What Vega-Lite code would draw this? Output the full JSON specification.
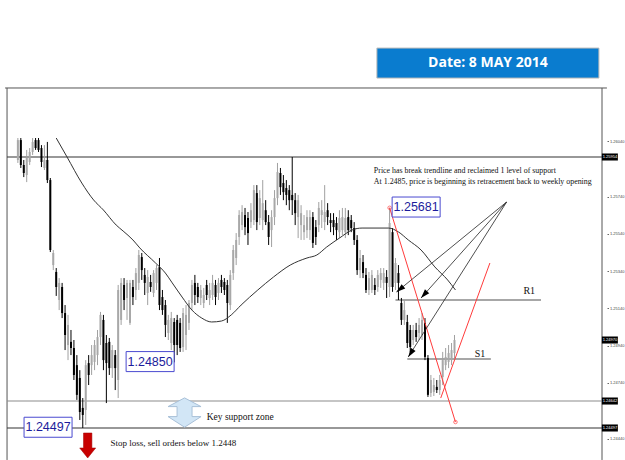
{
"$schema": "https://vega.github.io/schema/vega-lite/v6.json",
"width": 602, "height": 460,
"autosize": {"type": "none"},
"padding": {"left": 5, "right": 18, "top": 0, "bottom": 0},
"background": "#ffffff",
"config": {"view": {"stroke": null}},
"datasets": {
"candles": [
{"i":1,"o":1.25938,"h":1.26056,"l":1.25922,"c":1.26045},
{"i":2,"o":1.26045,"h":1.26056,"l":1.25895,"c":1.25911},
{"i":3,"o":1.25911,"h":1.25938,"l":1.25846,"c":1.25868},
{"i":4,"o":1.25857,"h":1.25992,"l":1.25819,"c":1.25949},
{"i":5,"o":1.25927,"h":1.26002,"l":1.25911,"c":1.25981},
{"i":6,"o":1.25981,"h":1.26056,"l":1.25965,"c":1.26035},
{"i":7,"o":1.26045,"h":1.26056,"l":1.25992,"c":1.26002},
{"i":8,"o":1.26045,"h":1.26056,"l":1.25981,"c":1.25992},
{"i":9,"o":1.26002,"h":1.26018,"l":1.25900,"c":1.25927},
{"i":10,"o":1.25895,"h":1.26018,"l":1.25884,"c":1.25938},
{"i":11,"o":1.25938,"h":1.26035,"l":1.25814,"c":1.25830},
{"i":12,"o":1.25830,"h":1.25841,"l":1.25443,"c":1.25454},
{"i":13,"o":1.25373,"h":1.25454,"l":1.25346,"c":1.25438},
{"i":14,"o":1.25336,"h":1.25357,"l":1.25207,"c":1.25255},
{"i":15,"o":1.25185,"h":1.25303,"l":1.25131,"c":1.25277},
{"i":16,"o":1.25255,"h":1.25277,"l":1.25088,"c":1.25115},
{"i":17,"o":1.25115,"h":1.25158,"l":1.24916,"c":1.24997},
{"i":18,"o":1.24943,"h":1.25105,"l":1.24862,"c":1.25051},
{"i":19,"o":1.24960,"h":1.25024,"l":1.24889,"c":1.24927},
{"i":20,"o":1.24927,"h":1.24970,"l":1.24755,"c":1.24782},
{"i":21,"o":1.24835,"h":1.24889,"l":1.24648,"c":1.24675},
{"i":22,"o":1.24766,"h":1.24808,"l":1.24540,"c":1.24583},
{"i":23,"o":1.24605,"h":1.24658,"l":1.24497,"c":1.24567},
{"i":24,"o":1.24594,"h":1.24862,"l":1.24513,"c":1.24835},
{"i":25,"o":1.24846,"h":1.24889,"l":1.24728,"c":1.24782},
{"i":26,"o":1.24835,"h":1.24943,"l":1.24782,"c":1.24889},
{"i":27,"o":1.24852,"h":1.24970,"l":1.24808,"c":1.24943},
{"i":28,"o":1.24889,"h":1.25024,"l":1.24835,"c":1.24986},
{"i":29,"o":1.24986,"h":1.25121,"l":1.24943,"c":1.25105},
{"i":30,"o":1.25078,"h":1.25105,"l":1.24808,"c":1.24862},
{"i":31,"o":1.24954,"h":1.24997,"l":1.24631,"c":1.24846},
{"i":32,"o":1.24960,"h":1.24981,"l":1.24782,"c":1.24819},
{"i":33,"o":1.24819,"h":1.24943,"l":1.24766,"c":1.24916},
{"i":34,"o":1.24889,"h":1.24916,"l":1.24701,"c":1.24819},
{"i":35,"o":1.24755,"h":1.25266,"l":1.24658,"c":1.25239},
{"i":36,"o":1.25078,"h":1.25303,"l":1.25051,"c":1.25277},
{"i":37,"o":1.25266,"h":1.25303,"l":1.25131,"c":1.25185},
{"i":38,"o":1.25196,"h":1.25293,"l":1.25078,"c":1.25277},
{"i":39,"o":1.25062,"h":1.25293,"l":1.25051,"c":1.25277},
{"i":40,"o":1.25255,"h":1.25293,"l":1.25158,"c":1.25201},
{"i":41,"o":1.25239,"h":1.25357,"l":1.25185,"c":1.25330},
{"i":42,"o":1.25277,"h":1.25454,"l":1.25239,"c":1.25427},
{"i":43,"o":1.25416,"h":1.25438,"l":1.25293,"c":1.25346},
{"i":44,"o":1.25320,"h":1.25357,"l":1.25212,"c":1.25277},
{"i":45,"o":1.25223,"h":1.25346,"l":1.25158,"c":1.25309},
{"i":46,"o":1.25282,"h":1.25320,"l":1.25229,"c":1.25255},
{"i":47,"o":1.25223,"h":1.25346,"l":1.25201,"c":1.25330},
{"i":48,"o":1.25277,"h":1.25373,"l":1.25239,"c":1.25357},
{"i":49,"o":1.25362,"h":1.25411,"l":1.25131,"c":1.25158},
{"i":50,"o":1.25201,"h":1.25239,"l":1.25105,"c":1.25131},
{"i":51,"o":1.25158,"h":1.25185,"l":1.24986,"c":1.25051},
{"i":52,"o":1.25008,"h":1.25105,"l":1.24970,"c":1.25078},
{"i":53,"o":1.24954,"h":1.25121,"l":1.24916,"c":1.25088},
{"i":54,"o":1.25067,"h":1.25088,"l":1.24850,"c":1.24943},
{"i":55,"o":1.25078,"h":1.25105,"l":1.24889,"c":1.24943},
{"i":56,"o":1.25062,"h":1.25088,"l":1.24906,"c":1.24927},
{"i":57,"o":1.24932,"h":1.25142,"l":1.24906,"c":1.25115},
{"i":58,"o":1.24997,"h":1.25158,"l":1.24916,"c":1.25105},
{"i":59,"o":1.25062,"h":1.25185,"l":1.25024,"c":1.25169},
{"i":60,"o":1.25169,"h":1.25293,"l":1.25131,"c":1.25266},
{"i":61,"o":1.25277,"h":1.25320,"l":1.25158,"c":1.25212},
{"i":62,"o":1.25255,"h":1.25277,"l":1.25169,"c":1.25201},
{"i":63,"o":1.25196,"h":1.25266,"l":1.25158,"c":1.25239},
{"i":64,"o":1.25169,"h":1.25250,"l":1.25142,"c":1.25212},
{"i":65,"o":1.25266,"h":1.25293,"l":1.25185,"c":1.25212},
{"i":66,"o":1.25196,"h":1.25277,"l":1.25158,"c":1.25239},
{"i":67,"o":1.25212,"h":1.25320,"l":1.25185,"c":1.25277},
{"i":68,"o":1.25266,"h":1.25293,"l":1.25158,"c":1.25201},
{"i":69,"o":1.25223,"h":1.25303,"l":1.25185,"c":1.25277},
{"i":70,"o":1.25293,"h":1.25320,"l":1.25223,"c":1.25255},
{"i":71,"o":1.25282,"h":1.25303,"l":1.25212,"c":1.25239},
{"i":72,"o":1.25266,"h":1.25293,"l":1.25062,"c":1.25169},
{"i":73,"o":1.25158,"h":1.25346,"l":1.25131,"c":1.25320},
{"i":74,"o":1.25330,"h":1.25481,"l":1.25293,"c":1.25454},
{"i":75,"o":1.25411,"h":1.25545,"l":1.25373,"c":1.25508},
{"i":76,"o":1.25524,"h":1.25668,"l":1.25481,"c":1.25642},
{"i":77,"o":1.25588,"h":1.25695,"l":1.25561,"c":1.25658},
{"i":78,"o":1.25642,"h":1.25680,"l":1.25534,"c":1.25577},
{"i":79,"o":1.25626,"h":1.25658,"l":1.25481,"c":1.25545},
{"i":80,"o":1.25604,"h":1.25706,"l":1.25572,"c":1.25668},
{"i":81,"o":1.25615,"h":1.25803,"l":1.25588,"c":1.25776},
{"i":82,"o":1.25760,"h":1.25803,"l":1.25561,"c":1.25604},
{"i":83,"o":1.25626,"h":1.25776,"l":1.25588,"c":1.25733},
{"i":84,"o":1.25615,"h":1.25830,"l":1.25561,"c":1.25706},
{"i":85,"o":1.25668,"h":1.25722,"l":1.25588,"c":1.25604},
{"i":86,"o":1.25604,"h":1.25642,"l":1.25481,"c":1.25524},
{"i":87,"o":1.25561,"h":1.25668,"l":1.25470,"c":1.25631},
{"i":88,"o":1.25631,"h":1.25776,"l":1.25588,"c":1.25733},
{"i":89,"o":1.25733,"h":1.25922,"l":1.25695,"c":1.25873},
{"i":90,"o":1.25868,"h":1.25895,"l":1.25750,"c":1.25792},
{"i":91,"o":1.25814,"h":1.25857,"l":1.25722,"c":1.25765},
{"i":92,"o":1.25787,"h":1.25830,"l":1.25695,"c":1.25750},
{"i":93,"o":1.25776,"h":1.25803,"l":1.25668,"c":1.25722},
{"i":94,"o":1.25750,"h":1.25954,"l":1.25642,"c":1.25722},
{"i":95,"o":1.25722,"h":1.25760,"l":1.25588,"c":1.25652},
{"i":96,"o":1.25631,"h":1.25750,"l":1.25518,"c":1.25722},
{"i":97,"o":1.25588,"h":1.25695,"l":1.25508,"c":1.25652},
{"i":98,"o":1.25550,"h":1.25642,"l":1.25508,"c":1.25588},
{"i":99,"o":1.25561,"h":1.25668,"l":1.25518,"c":1.25631},
{"i":100,"o":1.25561,"h":1.25668,"l":1.25508,"c":1.25631},
{"i":101,"o":1.25631,"h":1.25658,"l":1.25465,"c":1.25492},
{"i":102,"o":1.25577,"h":1.25615,"l":1.25481,"c":1.25524},
{"i":103,"o":1.25588,"h":1.25712,"l":1.25550,"c":1.25680},
{"i":104,"o":1.25642,"h":1.25722,"l":1.25572,"c":1.25668},
{"i":105,"o":1.25604,"h":1.25803,"l":1.25561,"c":1.25658},
{"i":106,"o":1.25668,"h":1.25706,"l":1.25588,"c":1.25631},
{"i":107,"o":1.25615,"h":1.25652,"l":1.25550,"c":1.25599},
{"i":108,"o":1.25615,"h":1.25652,"l":1.25534,"c":1.25577},
{"i":109,"o":1.25599,"h":1.25631,"l":1.25508,"c":1.25561},
{"i":110,"o":1.25550,"h":1.25668,"l":1.25518,"c":1.25626},
{"i":111,"o":1.25561,"h":1.25680,"l":1.25534,"c":1.25631},
{"i":112,"o":1.25550,"h":1.25680,"l":1.25518,"c":1.25626},
{"i":113,"o":1.25631,"h":1.25668,"l":1.25534,"c":1.25561},
{"i":114,"o":1.25615,"h":1.25642,"l":1.25550,"c":1.25572},
{"i":115,"o":1.25572,"h":1.25604,"l":1.25481,"c":1.25508},
{"i":116,"o":1.25508,"h":1.25534,"l":1.25320,"c":1.25346},
{"i":117,"o":1.25346,"h":1.25454,"l":1.25303,"c":1.25411},
{"i":118,"o":1.25389,"h":1.25427,"l":1.25303,"c":1.25330},
{"i":119,"o":1.25320,"h":1.25357,"l":1.25223,"c":1.25239},
{"i":120,"o":1.25239,"h":1.25336,"l":1.25212,"c":1.25303},
{"i":121,"o":1.25239,"h":1.25346,"l":1.25223,"c":1.25320},
{"i":122,"o":1.25266,"h":1.25303,"l":1.25212,"c":1.25239},
{"i":123,"o":1.25255,"h":1.25346,"l":1.25229,"c":1.25320},
{"i":124,"o":1.25293,"h":1.25357,"l":1.25250,"c":1.25330},
{"i":125,"o":1.25277,"h":1.25357,"l":1.25239,"c":1.25330},
{"i":126,"o":1.25309,"h":1.25346,"l":1.25196,"c":1.25277},
{"i":127,"o":1.25255,"h":1.25681,"l":1.25201,"c":1.25599},
{"i":128,"o":1.25550,"h":1.25572,"l":1.25229,"c":1.25255},
{"i":129,"o":1.25277,"h":1.25411,"l":1.25239,"c":1.25384},
{"i":130,"o":1.25330,"h":1.25373,"l":1.25185,"c":1.25277},
{"i":131,"o":1.25169,"h":1.25196,"l":1.25051,"c":1.25078},
{"i":132,"o":1.25078,"h":1.25185,"l":1.25051,"c":1.25131},
{"i":133,"o":1.25067,"h":1.25105,"l":1.24927,"c":1.24954},
{"i":134,"o":1.25024,"h":1.25051,"l":1.24906,"c":1.24932},
{"i":135,"o":1.24970,"h":1.25051,"l":1.24943,"c":1.25024},
{"i":136,"o":1.25024,"h":1.25062,"l":1.24960,"c":1.24986},
{"i":137,"o":1.25008,"h":1.25088,"l":1.24970,"c":1.25051},
{"i":138,"o":1.24997,"h":1.25115,"l":1.24970,"c":1.25078},
{"i":139,"o":1.25062,"h":1.25088,"l":1.24862,"c":1.24879},
{"i":140,"o":1.24873,"h":1.24889,"l":1.24664,"c":1.24675},
{"i":141,"o":1.24685,"h":1.24782,"l":1.24664,"c":1.24755},
{"i":142,"o":1.24691,"h":1.24766,"l":1.24669,"c":1.24728},
{"i":143,"o":1.24718,"h":1.24755,"l":1.24685,"c":1.24701},
{"i":144,"o":1.24701,"h":1.24782,"l":1.24675,"c":1.24755},
{"i":145,"o":1.24771,"h":1.24906,"l":1.24728,"c":1.24862},
{"i":146,"o":1.24835,"h":1.24927,"l":1.24808,"c":1.24879},
{"i":147,"o":1.24852,"h":1.24943,"l":1.24819,"c":1.24900},
{"i":148,"o":1.24862,"h":1.24954,"l":1.24835,"c":1.24916},
{"i":149,"o":1.24900,"h":1.24997,"l":1.24873,"c":1.24970}
],
"ma": [
{"i":14,"p":1.26056},{"i":17.67,"p":1.25954},{"i":22.67,"p":1.25814},{"i":26.67,"p":1.25723},
{"i":30,"p":1.25669},{"i":34.33,"p":1.25588},{"i":36.67,"p":1.25556},{"i":40,"p":1.25508},
{"i":42.33,"p":1.25465},{"i":47.67,"p":1.25384},{"i":51,"p":1.25330},{"i":53.33,"p":1.25277},
{"i":56.67,"p":1.25201},{"i":60,"p":1.25131},{"i":63.33,"p":1.25088},{"i":66.67,"p":1.25067},
{"i":70,"p":1.25072},{"i":73.33,"p":1.25105},{"i":76.67,"p":1.25158},{"i":82.33,"p":1.25239},
{"i":87.67,"p":1.25309},{"i":93.33,"p":1.25373},{"i":99,"p":1.25411},{"i":102.33,"p":1.25427},
{"i":105.67,"p":1.25470},{"i":110,"p":1.25518},{"i":114.33,"p":1.25562},{"i":117.67,"p":1.25572},
{"i":126.67,"p":1.25572},{"i":130,"p":1.25551},{"i":133.33,"p":1.25508},{"i":137.67,"p":1.25454},
{"i":142.33,"p":1.25363},{"i":146.67,"p":1.25293},{"i":149.33,"p":1.25239}
],
"levels": [
{"kind":"major","p":1.25954,"i":-2.67,"i2":199},
{"kind":"support","p":1.24642,"i":-2.67,"i2":199},
{"kind":"major","p":1.24497,"i":-2.67,"i2":199}
],
"frame": [
{"i":-3.33,"i2":200.67,"p":1.26325,"p2":1.26325},
{"i":-2.67,"i2":-2.67,"p":1.26325,"p2":1.24325},
{"i":199,"i2":199,"p":1.26325,"p2":1.24325}
],
"sr": [
{"t":"R1","i":129,"i2":178.33,"p":1.25185,"li":174.33,"lp":1.25234},
{"t":"S1","i":133,"i2":161.33,"p":1.24868,"li":157.67,"lp":1.24895}
],
"red": [
{"seg":"a","i":127,"p":1.25681},{"seg":"a","i":149.33,"p":1.24529},
{"seg":"b","i":144.33,"p":1.24658},{"seg":"b","i":161,"p":1.25384}
],
"reddots": [{"i":127,"p":1.25681},{"i":149.33,"p":1.24529}],
"arrows": [
{"a":"A1","i":166.67,"p":1.25712,"i2":129.33,"p2":1.25228},
{"a":"A2","i":166.67,"p":1.25712,"i2":137.67,"p2":1.25196},
{"a":"A3","i":166.67,"p":1.25712,"i2":133.33,"p2":1.24879}
],
"notes": [
{"t":"Price has break trendline and reclaimed 1 level of support","i":121.67,"p":1.25880},
{"t":"At 1.2485, price is beginning its retracement back to weekly opening","i":121.67,"p":1.25819}
],
"boxes": [
{"t":"1.25681","i":136,"p":1.25685},
{"t":"1.24850","i":45.83,"p":1.24854},
{"t":"1.24497","i":11.23,"p":1.24501}
],
"marks": [
{"t":"1.25954","p":1.25954},{"t":"1.24970","p":1.24970},
{"t":"1.24642","p":1.24642},{"t":"1.24497","p":1.24497}
]
},
"layer": [
{"data":{"name":"frame"},"mark":{"type":"rule","color":"#555555","strokeWidth":1},
 "encoding":{"x":{"field":"i","type":"quantitative","scale":{"domain":[-1.6667,199],"nice":false,"zero":false},"axis":null},"x2":{"field":"i2"},
 "y":{"field":"p","type":"quantitative","scale":{"domain":[1.243249,1.267981],"nice":false,"zero":false},"axis":{"orient":"right","values":[1.2444,1.2454,1.2474,1.2484,1.2494,1.2504,1.2514,1.2524,1.2534,1.2544,1.2554,1.2564,1.2574,1.2584,1.2604],"format":".5f","labelFontSize":4,"labelColor":"#444444","labelFont":"Liberation Sans","tickSize":1.5,"tickColor":"#666666","domain":false,"grid":false,"title":null,"labelPadding":1,"labelOverlap":false,"labelBound":false}},"y2":{"field":"p2"}}},
{"data":{"name":"levels"},"mark":{"type":"rule","strokeWidth":1.2},
 "encoding":{"x":{"field":"i","type":"quantitative"},"x2":{"field":"i2"},"y":{"field":"p","type":"quantitative"},
 "color":{"field":"kind","type":"nominal","scale":{"domain":["major","support"],"range":["#333333","#8c8c8c"]},"legend":null}}},
{"data":{"name":"sr"},"mark":{"type":"rule","strokeWidth":1.6,"color":"#8a8a8a"},
 "encoding":{"x":{"field":"i","type":"quantitative"},"x2":{"field":"i2"},"y":{"field":"p","type":"quantitative"}}},
{"data":{"name":"sr"},"mark":{"type":"text","font":"Liberation Serif","fontSize":10,"color":"#111111"},
 "encoding":{"x":{"field":"li","type":"quantitative"},"y":{"field":"lp","type":"quantitative"},"text":{"field":"t"}}},
{"data":{"name":"candles"},"mark":{"type":"rule","strokeWidth":1},
 "encoding":{"x":{"field":"i","type":"quantitative"},"y":{"field":"l","type":"quantitative"},"y2":{"field":"h"},
 "color":{"condition":{"test":"datum.c < datum.o","value":"#000000"},"value":"#a0a0a0"}}},
{"data":{"name":"candles"},"mark":{"type":"bar","width":2},
 "encoding":{"x":{"field":"i","type":"quantitative"},"y":{"field":"o","type":"quantitative"},"y2":{"field":"c"},
 "color":{"condition":{"test":"datum.c < datum.o","value":"#000000"},"value":"#a8a8a8"}}},
{"data":{"name":"ma"},"mark":{"type":"line","color":"#333333","strokeWidth":1,"interpolate":"monotone"},
 "encoding":{"x":{"field":"i","type":"quantitative"},"y":{"field":"p","type":"quantitative"}}},
{"data":{"name":"red"},"mark":{"type":"line","color":"#ff3b3b","strokeWidth":1},
 "encoding":{"x":{"field":"i","type":"quantitative"},"y":{"field":"p","type":"quantitative"},"detail":{"field":"seg"}}},
{"data":{"name":"reddots"},"mark":{"type":"point","color":"#ff3b3b","size":12,"filled":false,"strokeWidth":1},
 "encoding":{"x":{"field":"i","type":"quantitative"},"y":{"field":"p","type":"quantitative"}}},
{"data":{"name":"arrows"},"mark":{"type":"rule","color":"#222222","strokeWidth":0.8},
 "encoding":{"x":{"field":"i","type":"quantitative"},"x2":{"field":"i2"},"y":{"field":"p","type":"quantitative"},"y2":{"field":"p2"}}},
{"data":{"name":"arrows"},"transform":[{"filter":"datum.a == 'A1'"}],
 "mark":{"type":"point","shape":"M0,0L0.32,1L-0.32,1Z","size":324,"filled":true,"color":"#000000","angle":231,"opacity":1},
 "encoding":{"x":{"field":"i2","type":"quantitative"},"y":{"field":"p2","type":"quantitative"}}},
{"data":{"name":"arrows"},"transform":[{"filter":"datum.a == 'A2'"}],
 "mark":{"type":"point","shape":"M0,0L0.32,1L-0.32,1Z","size":324,"filled":true,"color":"#000000","angle":222,"opacity":1},
 "encoding":{"x":{"field":"i2","type":"quantitative"},"y":{"field":"p2","type":"quantitative"}}},
{"data":{"name":"arrows"},"transform":[{"filter":"datum.a == 'A3'"}],
 "mark":{"type":"point","shape":"M0,0L0.32,1L-0.32,1Z","size":324,"filled":true,"color":"#000000","angle":213,"opacity":1},
 "encoding":{"x":{"field":"i2","type":"quantitative"},"y":{"field":"p2","type":"quantitative"}}},
{"data":{"name":"notes"},"mark":{"type":"text","font":"Liberation Serif","fontSize":7.9,"align":"left","baseline":"middle","color":"#111111"},
 "encoding":{"x":{"field":"i","type":"quantitative"},"y":{"field":"p","type":"quantitative"},"text":{"field":"t"}}},
{"data":{"values":[{"t":"Key support zone","i":65,"p":1.24556}]},"mark":{"type":"text","font":"Liberation Serif","fontSize":9.5,"align":"left","baseline":"middle","color":"#111111"},
 "encoding":{"x":{"field":"i","type":"quantitative"},"y":{"field":"p","type":"quantitative"},"text":{"field":"t"}}},
{"data":{"values":[{"t":"Stop loss, sell orders below 1.2448","i":32.43,"p":1.24416}]},"mark":{"type":"text","font":"Liberation Serif","fontSize":9,"align":"left","baseline":"middle","color":"#111111"},
 "encoding":{"x":{"field":"i","type":"quantitative"},"y":{"field":"p","type":"quantitative"},"text":{"field":"t"}}},
{"data":{"name":"boxes"},"mark":{"type":"point","shape":"M-1,-0.417L1,-0.417L1,0.417L-1,0.417Z","size":2304,"filled":false,"fill":"#ffffff","fillOpacity":1,"stroke":"#4a4ad0","strokeWidth":1,"opacity":1},
 "encoding":{"x":{"field":"i","type":"quantitative"},"y":{"field":"p","type":"quantitative"}}},
{"data":{"name":"boxes"},"mark":{"type":"text","font":"Liberation Sans","fontSize":12.5,"color":"#1c1c9c"},
 "encoding":{"x":{"field":"i","type":"quantitative"},"y":{"field":"p","type":"quantitative"},"text":{"field":"t"}}},
{"data":{"values":[{"i":57.5,"p":1.24580}]},"mark":{"type":"point","shape":"M0,-0.862L0.97,-0.35L0.44,-0.35L0.44,0.238L0.97,0.238L0,0.862L-0.97,0.238L-0.44,0.238L-0.44,-0.35L-0.97,-0.35Z","size":1156,"filled":true,"fill":"#d2e6f6","stroke":"#a8c0d8","strokeWidth":1,"opacity":1},
 "encoding":{"x":{"field":"i","type":"quantitative"},"y":{"field":"p","type":"quantitative"}}},
{"data":{"values":[{"i":24.67,"p":1.24403}]},"mark":{"type":"point","shape":"M-0.336,-1L0.336,-1L0.336,0.2L0.64,0.2L0,1L-0.64,0.2L-0.336,0.2Z","size":625,"filled":true,"fill":"#c80000","stroke":"#a00000","strokeWidth":0.5,"opacity":1},
 "encoding":{"x":{"field":"i","type":"quantitative"},"y":{"field":"p","type":"quantitative"}}},
{"data":{"values":[{"t":"Date: 8 MAY 2014","i":160.33,"p":1.26459}]},"mark":{"type":"point","shape":"M-1,-0.135L1,-0.135L1,0.135L-1,0.135Z","size":49284,"filled":true,"fill":"#0a7ccf","stroke":"#b8b8b8","strokeWidth":1,"opacity":1},
 "encoding":{"x":{"field":"i","type":"quantitative"},"y":{"field":"p","type":"quantitative"}}},
{"data":{"values":[{"t":"Date: 8 MAY 2014","i":160.33,"p":1.26459}]},"mark":{"type":"text","font":"Open Sans","fontWeight":"bold","fontSize":14,"color":"#ffffff"},
 "encoding":{"x":{"field":"i","type":"quantitative"},"y":{"field":"p","type":"quantitative"},"text":{"field":"t"}}},
{"data":{"name":"marks"},"mark":{"type":"point","shape":"M-1,-0.44L1,-0.44L1,0.44L-1,0.44Z","size":256,"filled":true,"color":"#000000","opacity":1},
 "encoding":{"x":{"datum":201.67,"type":"quantitative"},"y":{"field":"p","type":"quantitative"}}},
{"data":{"name":"marks"},"mark":{"type":"text","font":"Liberation Sans","fontSize":4,"color":"#ffffff"},
 "encoding":{"x":{"datum":201.67,"type":"quantitative"},"y":{"field":"p","type":"quantitative"},"text":{"field":"t"}}}
]
}
